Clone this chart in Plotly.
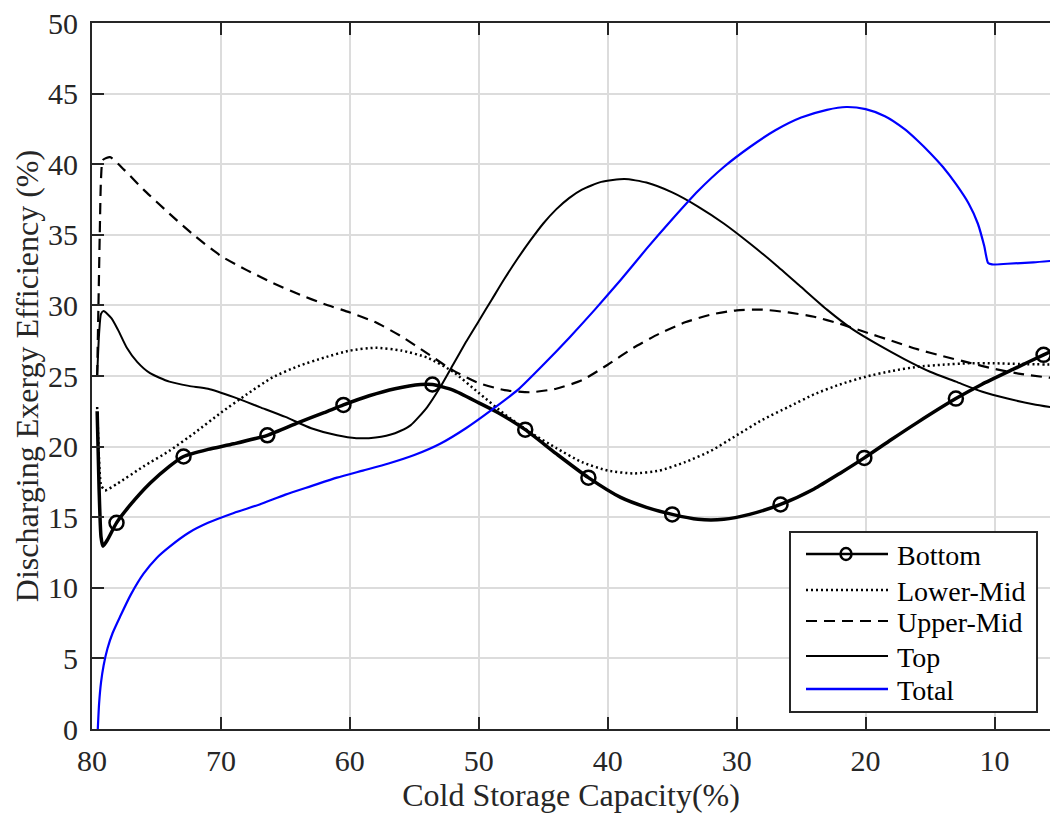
import plotly.graph_objects as go

# Cold storage capacity (%) vs discharging exergy efficiency (%) for each layer
bottom_x = [79.6, 79.45, 79.3, 79.15, 78.8, 78.1, 77.0, 75.5, 74.0, 72.9, 71.0, 69.0,
            66.4, 64.0, 62.0, 60.5, 58.5, 56.5, 54.5, 53.6, 52.0, 50.0, 48.5, 46.4,
            44.0, 41.5, 39.0, 37.0, 35.0, 33.0, 31.0, 29.0, 26.6, 24.0, 22.0, 20.1,
            18.0, 16.0, 13.0, 11.0, 8.5, 6.2, 5.0]
bottom_y = [22.5, 17.0, 13.6, 12.95, 13.4, 14.6, 15.9, 17.4, 18.6, 19.3, 19.8, 20.2,
            20.8, 21.7, 22.4, 22.95, 23.6, 24.1, 24.4, 24.4, 24.0, 23.1, 22.4, 21.2,
            19.5, 17.8, 16.4, 15.7, 15.2, 14.85, 14.85, 15.2, 15.9, 17.0, 18.1, 19.2,
            20.5, 21.7, 23.4, 24.4, 25.5, 26.5, 27.0]
# sample points carrying a circle marker
bottom_mark_x = [78.1, 72.9, 66.4, 60.5, 53.6, 46.4, 41.5, 35.0, 26.6, 20.1, 13.0, 6.2]
bottom_mark_y = [14.6, 19.3, 20.8, 22.95, 24.4, 21.2, 17.8, 15.2, 15.9, 19.2, 23.4, 26.5]

lower_mid_x = [79.6, 79.45, 79.3, 79.0, 78.0, 76.0, 74.0, 72.0, 70.0, 68.0, 66.0, 64.0,
               62.0, 60.0, 58.0, 56.0, 54.0, 52.0, 50.0, 48.0, 46.0, 44.0, 42.0, 40.0,
               38.0, 36.0, 34.0, 32.0, 30.0, 28.0, 26.0, 24.0, 22.0, 20.0, 18.0, 16.0,
               14.0, 12.0, 10.0, 8.0, 5.0]
lower_mid_y = [22.8, 19.0, 17.3, 16.9, 17.4, 18.6, 19.7, 21.0, 22.4, 23.7, 24.9, 25.7,
               26.3, 26.8, 27.0, 26.8, 26.3, 25.3, 23.8, 22.3, 21.0, 19.9, 18.9, 18.3,
               18.1, 18.3, 18.9, 19.7, 20.8, 21.9, 22.8, 23.7, 24.4, 24.95, 25.35, 25.65,
               25.8, 25.9, 25.9, 25.85, 25.8]

upper_mid_x = [79.6, 79.5, 79.4, 79.3, 79.15, 78.6, 77.5, 76.0, 74.0, 72.0, 70.0, 68.0,
               66.0, 64.0, 62.0, 60.0, 58.0, 56.0, 54.0, 52.0, 50.0, 48.0, 46.0, 44.0,
               42.0, 40.0, 38.0, 36.0, 34.0, 32.0, 30.0, 28.0, 26.0, 24.0, 22.0, 20.0,
               18.0, 16.0, 14.0, 12.0, 10.0, 8.0, 5.0]
upper_mid_y = [25.0, 30.0, 35.0, 39.0, 40.3, 40.5, 39.6, 38.2, 36.5, 34.9, 33.5, 32.5,
               31.6, 30.8, 30.1, 29.5, 28.8, 27.8, 26.6, 25.4, 24.5, 24.0, 23.85, 24.1,
               24.7, 25.8, 27.0, 28.0, 28.8, 29.35, 29.65, 29.7, 29.5, 29.2, 28.7, 28.1,
               27.5, 26.9, 26.4, 25.95, 25.5, 25.15, 24.8]

top_x = [79.6, 79.45, 79.3, 79.1, 78.5, 78.0, 77.3, 76.5, 75.5, 74.0, 72.5, 71.0,
         69.0, 67.0, 65.0, 63.0, 61.0, 59.5, 58.0, 56.5, 55.3, 54.0, 53.0, 52.0,
         51.0, 50.0, 49.0, 48.0, 47.0, 46.0, 45.0, 44.0, 43.0, 42.0, 40.5, 38.7,
         37.0, 35.0, 33.0, 31.0, 29.0, 27.0, 25.0, 23.0, 21.0, 19.0, 17.0, 15.0,
         13.0, 11.0, 9.0, 7.0, 5.0]
top_y = [25.0, 28.0, 29.4, 29.6, 29.1, 28.3, 27.0, 26.0, 25.2, 24.6, 24.3, 24.1,
         23.5, 22.8, 22.1, 21.3, 20.8, 20.6, 20.65, 20.95, 21.5, 22.8, 24.2, 25.8,
         27.4, 28.9, 30.4, 31.9, 33.3, 34.6, 35.8, 36.8, 37.6, 38.2, 38.75, 38.95,
         38.7, 38.0, 37.0, 35.8, 34.4, 32.9, 31.3, 29.7, 28.3, 27.2, 26.2, 25.3,
         24.6, 23.9, 23.4, 23.0, 22.7]

total_x = [79.55, 79.45, 79.3, 79.1, 78.8, 78.4, 77.8, 77.0, 76.0, 75.0, 74.0, 72.5,
           71.0, 69.0, 67.0, 65.0, 63.0, 61.0, 59.0, 57.0, 55.0, 53.0, 51.0, 49.0,
           47.0, 45.0, 43.0, 41.0, 39.0, 37.0, 35.0, 33.0, 31.0, 29.0, 27.0, 25.0,
           23.0, 21.5, 20.0, 18.5, 17.0, 16.0, 15.0, 14.0, 13.0, 12.0, 11.3, 10.8,
           10.5, 10.2, 9.0, 7.0, 5.0]
total_y = [0.0, 1.8, 3.3, 4.5, 5.7, 6.8, 8.0, 9.5, 11.0, 12.1, 12.9, 13.9,
           14.6, 15.3, 15.9, 16.6, 17.2, 17.8, 18.3, 18.8, 19.4, 20.2, 21.3, 22.6,
           24.0, 25.8, 27.7, 29.7, 31.8, 34.0, 36.1, 38.1, 39.8, 41.2, 42.4, 43.3,
           43.85, 44.05, 43.9, 43.4, 42.5, 41.7, 40.8, 39.8, 38.6, 37.2, 35.8, 34.2,
           33.0, 32.9, 32.95, 33.05, 33.2]

series_names = ["Bottom", "Lower-Mid", "Upper-Mid", "Top", "Total"]

x_ticks = [80, 70, 60, 50, 40, 30, 20, 10]
y_ticks = [0, 5, 10, 15, 20, 25, 30, 35, 40, 45, 50]

FONT = "Liberation Serif"
INK = "#262626"
BLUE = "#0000ff"
SMOOTH = 0.6

# figure geometry (pixels)
W, H = 1050, 816
ML, MR, MT, MB = 92, 0, 23, 87
PW, PH = W - ML - MR, H - MT - MB

fig = go.Figure()

fig.add_trace(go.Scatter(
    x=bottom_x, y=bottom_y, mode="lines", name=series_names[0], showlegend=False,
    line=dict(color="black", width=3.5, shape="spline", smoothing=SMOOTH),
))
fig.add_trace(go.Scatter(
    x=bottom_mark_x, y=bottom_mark_y, mode="markers", name=series_names[0], showlegend=False,
    marker=dict(symbol="circle-open", color="black", size=14, line=dict(width=2.5, color="black")),
))
fig.add_trace(go.Scatter(
    x=lower_mid_x, y=lower_mid_y, mode="lines", name=series_names[1], showlegend=False,
    line=dict(color="black", width=2.5, dash="2px,3px", shape="spline", smoothing=SMOOTH),
))
fig.add_trace(go.Scatter(
    x=upper_mid_x, y=upper_mid_y, mode="lines", name=series_names[2], showlegend=False,
    line=dict(color="black", width=2.2, dash="11px,7px", shape="spline", smoothing=SMOOTH),
))
fig.add_trace(go.Scatter(
    x=top_x, y=top_y, mode="lines", name=series_names[3], showlegend=False,
    line=dict(color="black", width=2, shape="spline", smoothing=SMOOTH),
))
fig.add_trace(go.Scatter(
    x=total_x, y=total_y, mode="lines", name=series_names[4], showlegend=False,
    line=dict(color=BLUE, width=2.2, shape="spline", smoothing=SMOOTH),
))


def px(xp, yp):
    """Pixel position on the page -> paper coordinates."""
    return (xp - ML) / PW, (H - MB - yp) / PH


# boxed legend in the lower-right corner
shapes = []
annotations = []
bx0, by0 = px(790, 712)
bx1, by1 = px(1037, 532)
shapes.append(dict(type="rect", xref="paper", yref="paper", x0=bx0, y0=by0, x1=bx1, y1=by1,
                   fillcolor="white", line=dict(color=INK, width=2), layer="above"))
row_y = [554, 590, 621, 656, 689]
styles = [
    dict(color="black", width=2.5),
    dict(color="black", width=2.5, dash="2px,3px"),
    dict(color="black", width=2.2, dash="11px,7px"),
    dict(color="black", width=2),
    dict(color=BLUE, width=2.5),
]
for name, ry, st in zip(series_names, row_y, styles):
    lx0, ly = px(806, ry)
    lx1, _ = px(888, ry)
    shapes.append(dict(type="line", xref="paper", yref="paper", x0=lx0, y0=ly, x1=lx1, y1=ly,
                       line=st, layer="above"))
    tx, ty = px(895, ry + 1)
    annotations.append(dict(text=name, xref="paper", yref="paper", x=tx, y=ty,
                            xanchor="left", yanchor="middle", showarrow=False,
                            font=dict(family=FONT, size=28, color="black")))
cx0, cy0 = px(840.5, 560)
cx1, cy1 = px(851.5, 548)
shapes.append(dict(type="circle", xref="paper", yref="paper", x0=cx0, y0=cy0, x1=cx1, y1=cy1,
                   line=dict(color="black", width=2.5), layer="above"))

axis_common = dict(
    ticks="inside", ticklen=12, tickwidth=2, tickcolor=INK,
    showline=True, linecolor=INK, linewidth=2,
    showgrid=True, gridcolor="#dcdcdc", gridwidth=1.5, zeroline=False,
    tickfont=dict(family=FONT, size=30, color=INK),
)

fig.update_layout(
    width=W, height=H,
    margin=dict(l=ML, r=MR, t=MT, b=MB),
    paper_bgcolor="white", plot_bgcolor="white",
    font=dict(family=FONT, color=INK),
    xaxis=dict(
        range=[80, 5.7], tickvals=x_ticks, mirror="ticks",
        ticklabelstandoff=4,
        title=dict(text="Cold Storage Capacity(%)", font=dict(family=FONT, size=32, color=INK),
                   standoff=2),
        **axis_common,
    ),
    yaxis=dict(
        range=[0, 50], tickvals=y_ticks,
        ticklabelstandoff=6,
        title=dict(text="Discharging Exergy Efficiency (%)", font=dict(family=FONT, size=32, color=INK),
                   standoff=0),
        **axis_common,
    ),
    shapes=shapes,
    annotations=annotations,
    showlegend=False,
)

fig.write_html("out.html")
